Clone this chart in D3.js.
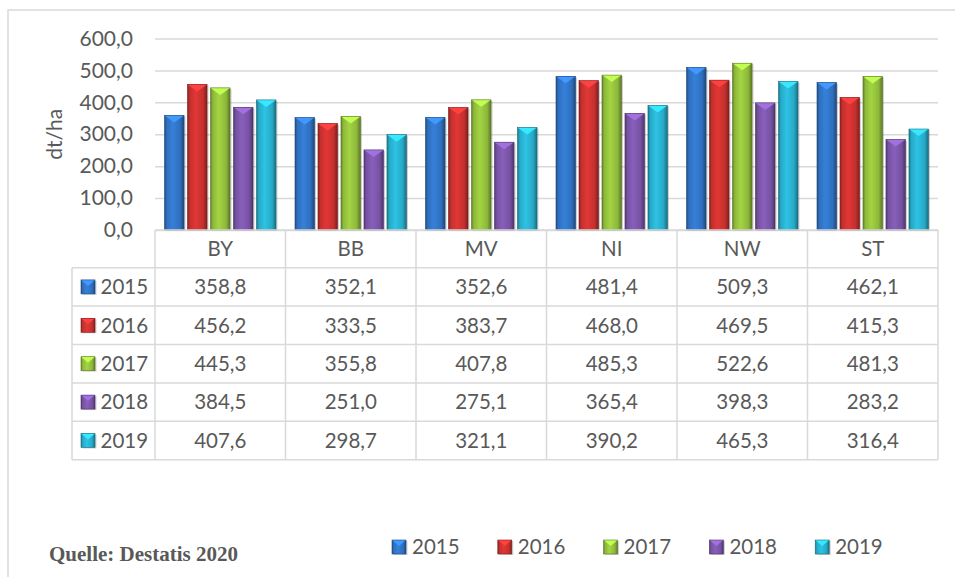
<!DOCTYPE html>
<html>
<head>
<meta charset="utf-8">
<script src="https://cdn.jsdelivr.net/npm/d3@7"></script>
<style>
  html, body { margin: 0; padding: 0; background: #fff; }
</style>
</head>
<body>
<div id="chart"></div>
<script>
// data
const categories = ["BY", "BB", "MV", "NI", "NW", "ST"];
const years = ["2015", "2016", "2017", "2018", "2019"];
const v2015 = [358.8, 352.1, 352.6, 481.4, 509.3, 462.1];
const v2016 = [456.2, 333.5, 383.7, 468.0, 469.5, 415.3];
const v2017 = [445.3, 355.8, 407.8, 485.3, 522.6, 481.3];
const v2018 = [384.5, 251.0, 275.1, 365.4, 398.3, 283.2];
const v2019 = [407.6, 298.7, 321.1, 390.2, 465.3, 316.4];
const yTicks = [0, 100, 200, 300, 400, 500, 600];
const series = [v2015, v2016, v2017, v2018, v2019];
const colors = ["#2f6fbd", "#c3302e", "#8db83a", "#7652a2", "#27a9c6"];

// layout
const width = 955, height = 577;
const plotLeft = 155, plotRight = 938, plotTop = 38.5, plotBottom = 230;
const tableLeft = 72, headerH = 37.7, rowH = 38.4;
const textColor = "#595959", lineColor = "#d9d9d9";
const font = "Lato, 'Open Sans', sans-serif";

const fmt = d3.formatLocale({ decimal: ",", thousands: ".", grouping: [3], currency: ["", ""] }).format(".1f");

const svg = d3.select("#chart").append("svg")
  .attr("width", width)
  .attr("height", height)
  .attr("font-family", font);

const defs = svg.append("defs");
colors.forEach((c, i) => {
  const base = d3.color(c);
  const g = defs.append("linearGradient").attr("id", "grad" + i)
    .attr("x1", 0).attr("x2", 1).attr("y1", 0).attr("y2", 0);
  g.append("stop").attr("offset", 0).attr("stop-color", base.darker(1));
  g.append("stop").attr("offset", 0.12).attr("stop-color", base);
  g.append("stop").attr("offset", 0.42).attr("stop-color", base.brighter(0.4));
  g.append("stop").attr("offset", 0.8).attr("stop-color", base);
  g.append("stop").attr("offset", 1).attr("stop-color", base.darker(1.2));
});

// chart border
svg.append("rect")
  .attr("x", 8).attr("y", 10)
  .attr("width", width + 20).attr("height", height + 20)
  .attr("fill", "none")
  .attr("stroke", lineColor)
  .attr("stroke-width", 1.5);

// scales
const x0 = d3.scaleBand().domain(categories).range([plotLeft, plotRight]).padding(0);
const cw = x0.bandwidth();
const x1 = d3.scaleBand().domain(years).range([9.5, cw - 9.5]).paddingInner(0.15).paddingOuter(0);
const y = d3.scaleLinear().domain([0, 600]).range([plotBottom, plotTop]);

// gridlines + tick labels
const yAxis = svg.append("g")
  .attr("transform", `translate(${plotLeft},0)`)
  .call(d3.axisLeft(y).tickValues(yTicks).tickFormat(fmt).tickSize(-(plotRight - plotLeft)).tickPadding(22));
yAxis.select(".domain").remove();
yAxis.selectAll(".tick line").attr("stroke", lineColor).attr("stroke-width", 1.5);
yAxis.selectAll(".tick text").attr("fill", textColor).attr("font-size", 21).attr("font-family", font);

// axis title
svg.append("text")
  .attr("transform", `translate(62,${(plotTop + plotBottom) / 2}) rotate(-90)`)
  .attr("text-anchor", "middle")
  .attr("fill", textColor)
  .attr("font-size", 21)
  .text("dt/ha");

// bar drawing with a bevel look
function bevelBox(g, i, bx, by, bw, bh, tri) {
  const base = d3.color(colors[i]);
  g.append("rect")
    .attr("x", bx + 1.5).attr("y", by + 1)
    .attr("width", bw).attr("height", bh)
    .attr("fill", "#000").attr("opacity", 0.18);
  g.append("rect")
    .attr("x", bx).attr("y", by)
    .attr("width", bw).attr("height", bh)
    .attr("fill", `url(#grad${i})`);
  g.append("path")
    .attr("d", `M${bx},${by}L${bx + bw},${by}L${bx + bw / 2},${by + tri}Z`)
    .attr("fill", base.brighter(0.9));
  g.append("rect")
    .attr("x", bx).attr("y", by)
    .attr("width", bw).attr("height", bh)
    .attr("fill", "none")
    .attr("stroke", base.darker(1.2))
    .attr("stroke-width", 0.6);
}

const bars = svg.append("g");
categories.forEach((cat, ci) => {
  series.forEach((vals, si) => {
    const bx = x0(cat) + x1(years[si]);
    const by = y(vals[ci]);
    bevelBox(bars, si, bx, by, x1.bandwidth(), y(0) - by, 7);
  });
});

// data table
const table = svg.append("g");
const rowTop = plotBottom + headerH;
const tableBottom = rowTop + rowH * years.length;
const line = (x1_, y1_, x2_, y2_) => table.append("line")
  .attr("x1", x1_).attr("y1", y1_).attr("x2", x2_).attr("y2", y2_)
  .attr("stroke", lineColor).attr("stroke-width", 1.5);

line(plotLeft, plotBottom, plotRight, plotBottom);
d3.range(years.length + 1).forEach(r => line(tableLeft, rowTop + r * rowH, plotRight, rowTop + r * rowH));
line(tableLeft, rowTop, tableLeft, tableBottom);
categories.forEach(c => line(x0(c), plotBottom, x0(c), tableBottom));
line(plotRight, plotBottom, plotRight, tableBottom);

table.selectAll(".cat").data(categories).join("text")
  .attr("x", d => x0(d) + cw / 2)
  .attr("y", plotBottom + headerH / 2)
  .attr("dy", "0.36em")
  .attr("text-anchor", "middle")
  .attr("fill", textColor)
  .attr("font-size", 20.5)
  .text(d => d);

years.forEach((yr, si) => {
  const cy = rowTop + si * rowH + rowH / 2;
  bevelBox(table, si, 81, cy - 7, 14, 14, 6);
  table.append("text")
    .attr("x", 100.5).attr("y", cy).attr("dy", "0.36em")
    .attr("fill", textColor).attr("font-size", 20.5)
    .text(yr);
  table.selectAll(null).data(series[si]).join("text")
    .attr("x", (d, ci) => x0(categories[ci]) + cw / 2)
    .attr("y", cy).attr("dy", "0.36em")
    .attr("text-anchor", "middle")
    .attr("fill", textColor).attr("font-size", 20.5)
    .text(d => fmt(d));
});

// legend
const legend = svg.append("g");
years.forEach((yr, si) => {
  const lx = 392 + si * 105.8;
  bevelBox(legend, si, lx, 540, 14, 14, 6);
  legend.append("text")
    .attr("x", lx + 20).attr("y", 547).attr("dy", "0.36em")
    .attr("fill", textColor).attr("font-size", 20.5)
    .text(yr);
});

// source note
svg.append("text")
  .attr("x", 49).attr("y", 561)
  .attr("font-family", "'Liberation Serif', 'Times New Roman', serif")
  .attr("font-weight", "bold")
  .attr("font-size", 21)
  .attr("fill", textColor)
  .text("Quelle: Destatis 2020");
</script>
</body>
</html>
